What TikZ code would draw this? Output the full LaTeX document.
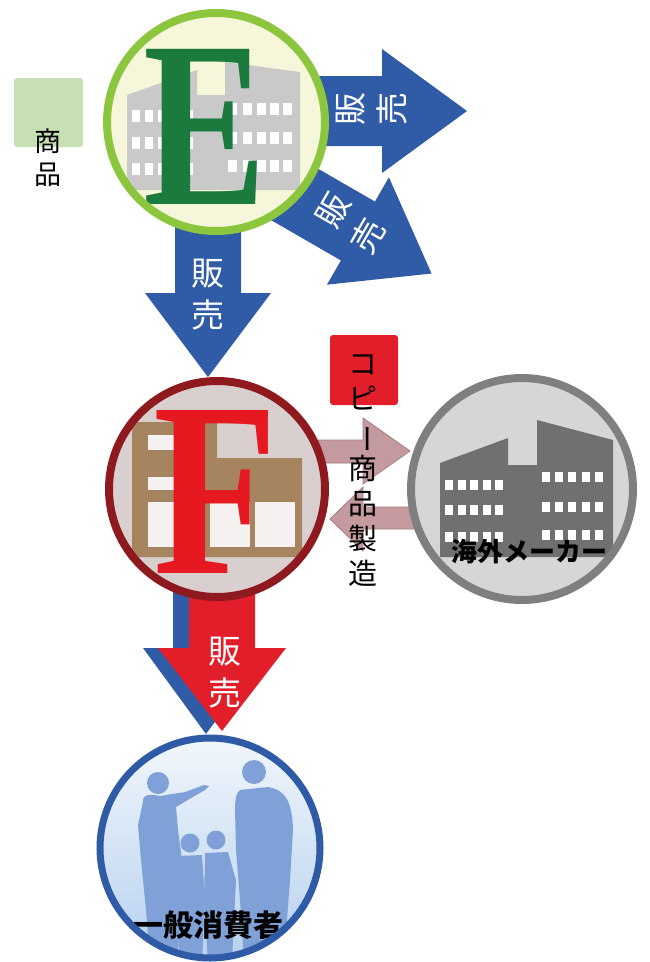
\documentclass[tikz,border=0pt]{standalone}
\usepackage{fontspec}
\newfontfamily\jp{Noto Sans CJK JP}
\newfontfamily\letterfont{Liberation Serif}
\definecolor{arrowblue}{HTML}{2F5BA7}
\definecolor{ringgreen}{HTML}{8CC63F}
\definecolor{creamfill}{HTML}{F5F6DA}
\definecolor{lightgraybld}{HTML}{C9C9C9}
\definecolor{dkgreen}{HTML}{1B7A3E}
\definecolor{ringred}{HTML}{8E1A20}
\definecolor{pinkfill}{HTML}{D9CFCF}
\definecolor{brownbld}{HTML}{A5845F}
\definecolor{winlight}{HTML}{F5F1F1}
\definecolor{redletter}{HTML}{E5191F}
\definecolor{ringgray}{HTML}{7F7F7F}
\definecolor{grayfill}{HTML}{D6D6D6}
\definecolor{darkbld}{HTML}{707070}
\definecolor{dustypink}{HTML}{C49A9E}
\definecolor{dustyedge}{HTML}{A87B80}
\definecolor{copyred}{HTML}{E31E2B}
\definecolor{goodsgreen}{HTML}{C6E0B4}
\definecolor{ringblue}{HTML}{2E5AA6}
\definecolor{skytop}{HTML}{F2F7FC}
\definecolor{skybottom}{HTML}{B5D0EE}
\definecolor{silhouette}{HTML}{7FA1D8}
\begin{document}
\begin{tikzpicture}[x=1pt,y=-1pt,
  fatarrow/.style={fill=arrowblue},
  redarrow/.style={fill=copyred},
  pinkarrow/.style={fill=dustypink,draw=dustyedge,line width=0.8pt},
  saletext/.style={text=white,font=\jp\fontsize{33}{42}\selectfont,align=center,inner sep=0pt},
  vtext/.style={text=black,font=\jp\fontsize{29}{35}\selectfont,align=center,inner sep=0pt},
  window/.style={fill=white},
  caption/.style={text=black,font=\jp\bfseries\fontsize{26}{30}\selectfont,inner sep=0pt}]
\useasboundingbox (0,0) rectangle (649,962);

% ---------- blue sales arrows out of company E ----------
\begin{scope}[shift={(290,111)}]
  \fill[fatarrow] (0,-35) -- (92,-35) -- (92,-62) -- (177,0) -- (92,62) -- (92,35) -- (0,35) -- cycle;
\end{scope}
\node[saletext,rotate=90] (sellR) at (372,109) {販\\売};

\begin{scope}[shift={(267,178.5)},rotate=-30]
  \fill[fatarrow] (0,-34) -- (105,-34) -- (105,-62) -- (190,0) -- (105,62) -- (105,34) -- (0,34) -- cycle;
\end{scope}
\node[saletext,rotate=60] (sellDa) at (333,210) {販};
\node[saletext,rotate=60] (sellDb) at (368,236) {売};

\fill[fatarrow] (175,200) -- (241,200) -- (241,293) -- (271,293) -- (208,377) -- (145,293) -- (175,293) -- cycle;
\node[saletext] (sellE) at (208,295) {販\\売};

% ---------- arrows F -> consumers ----------
\fill[fatarrow] (173,590) -- (239,590) -- (239,648) -- (269,648) -- (206,734) -- (143,648) -- (173,648) -- cycle;
\fill[redarrow] (189,590) -- (255,590) -- (255,648) -- (286,648) -- (222,731) -- (158,648) -- (189,648) -- cycle;
\node[saletext] (sellF) at (225,673) {販\\売};

% ---------- arrows between F and the overseas maker ----------
\draw[pinkarrow] (318,440) -- (363,440) -- (363,418) -- (410,451) -- (363,484) -- (363,463) -- (318,463) -- cycle;
\draw[pinkarrow] (418,507) -- (363,507) -- (363,487) -- (330,519) -- (363,551) -- (363,529) -- (418,529) -- cycle;

% ---------- goods tag ----------
\fill[goodsgreen,rounded corners=3pt] (14,78) rectangle (83,147);
\node[vtext,font=\jp\fontsize{27}{33}\selectfont] (goods) at (48,158) {商\\品};

% ---------- company E ----------
\fill[creamfill] (216,122) circle (109);
\fill[lightgraybld] (127,95) -- (197,70) -- (197,95) -- (225,95) -- (225,62) -- (300,72) -- (300,190) -- (127,190) -- cycle;
\foreach \x in {132,145,158,172,185} \foreach \y in {110,137,163} \fill[window] (\x,\y) rectangle ++(8,12);
\foreach \x in {228,243,257,270,283} \foreach \y in {103,132,160} \fill[window] (\x,\y) rectangle ++(9,12);
\node[text=dkgreen,font=\letterfont\bfseries\fontsize{237}{237}\selectfont,inner sep=0pt,xscale=0.78] (letterE) at (205,127) {E};
\draw[ringgreen,line width=8pt] (216,122) circle (109);

% ---------- company F ----------
\fill[pinkfill] (217,489) circle (108);
\fill[brownbld] (132,422) -- (217,422) -- (217,458) -- (302,458) -- (302,557) -- (132,557) -- cycle;
\fill[winlight] (148,435) rectangle (202,450);
\fill[winlight] (148,477) rectangle (202,490);
\fill[winlight] (148,502) rectangle (202,547);
\fill[winlight] (210,502) rectangle (250,547);
\fill[winlight] (255,502) rectangle (295,547);
\node[text=redletter,font=\letterfont\bfseries\fontsize{249}{249}\selectfont,inner sep=0pt,xscale=0.82] (letterF) at (216,492) {F};
\draw[ringred,line width=8pt] (217,489) circle (108);

% ---------- overseas maker ----------
\fill[grayfill] (522,489) circle (111);
\fill[darkbld] (440,463) -- (508,438) -- (508,465) -- (537,465) -- (537,420) -- (613,440) -- (613,557) -- (440,557) -- cycle;
\foreach \x in {445,458,470,483,495} \foreach \y in {480,505,532} \fill[window] (\x,\y) rectangle ++(8,10);
\foreach \x in {542,555,568,582,595} \foreach \y in {472,502,530} \fill[window] (\x,\y) rectangle ++(8,10);
\node[caption] (maker) at (529,552) {海外メーカー};
\draw[ringgray,line width=8pt] (522,489) circle (111);

% ---------- copy goods label ----------
\fill[copyred,rounded corners=3pt] (330,335) rectangle (398,405);
\node[vtext] (copy) at (363,471) {コ\\ピ\\\rotatebox[origin=c]{-90}{ー}\\商\\品\\製\\造};

% ---------- consumers ----------
\begin{scope}
  \clip (210,848) circle (110);
  \shade[top color=skytop,bottom color=skybottom] (95,735) rectangle (325,962);
  \begin{scope}[fill=silhouette]
    \fill (158,783) circle (11);
    \fill (143,802) .. controls (142,794) and (150,794) .. (160,796) -- (185,792) -- (204,785) -- (209,786) -- (205,790) -- (186,801) -- (176,807) -- (178,830) -- (182,860) -- (180,900) -- (178,962) -- (150,962) -- (146,910) -- (141,860) -- (138,825) -- cycle;
    \fill (254,772) circle (12);
    \fill (240,790) -- (268,787) .. controls (285,790) and (292,800) .. (293,830) -- (290,880) -- (287,920) -- (286,962) -- (244,962) -- (240,900) -- (236,850) -- (235,810) .. controls (235,797) and (237,792) .. (240,790) -- cycle;
    \fill (190,843) circle (9.5);
    \fill (178,856) -- (202,855) -- (205,900) -- (202,962) -- (180,962) -- (176,905) -- cycle;
    \fill (216,840) circle (9.5);
    \fill (205,853) -- (228,852) -- (236,880) -- (232,962) -- (208,962) -- (204,900) -- cycle;
  \end{scope}
\end{scope}
\node[caption,font=\jp\bfseries\fontsize{30}{34}\selectfont] (consumers) at (208,925) {一般消費者};
\draw[ringblue,line width=7pt] (210,848) circle (110);
\end{tikzpicture}
\end{document}
